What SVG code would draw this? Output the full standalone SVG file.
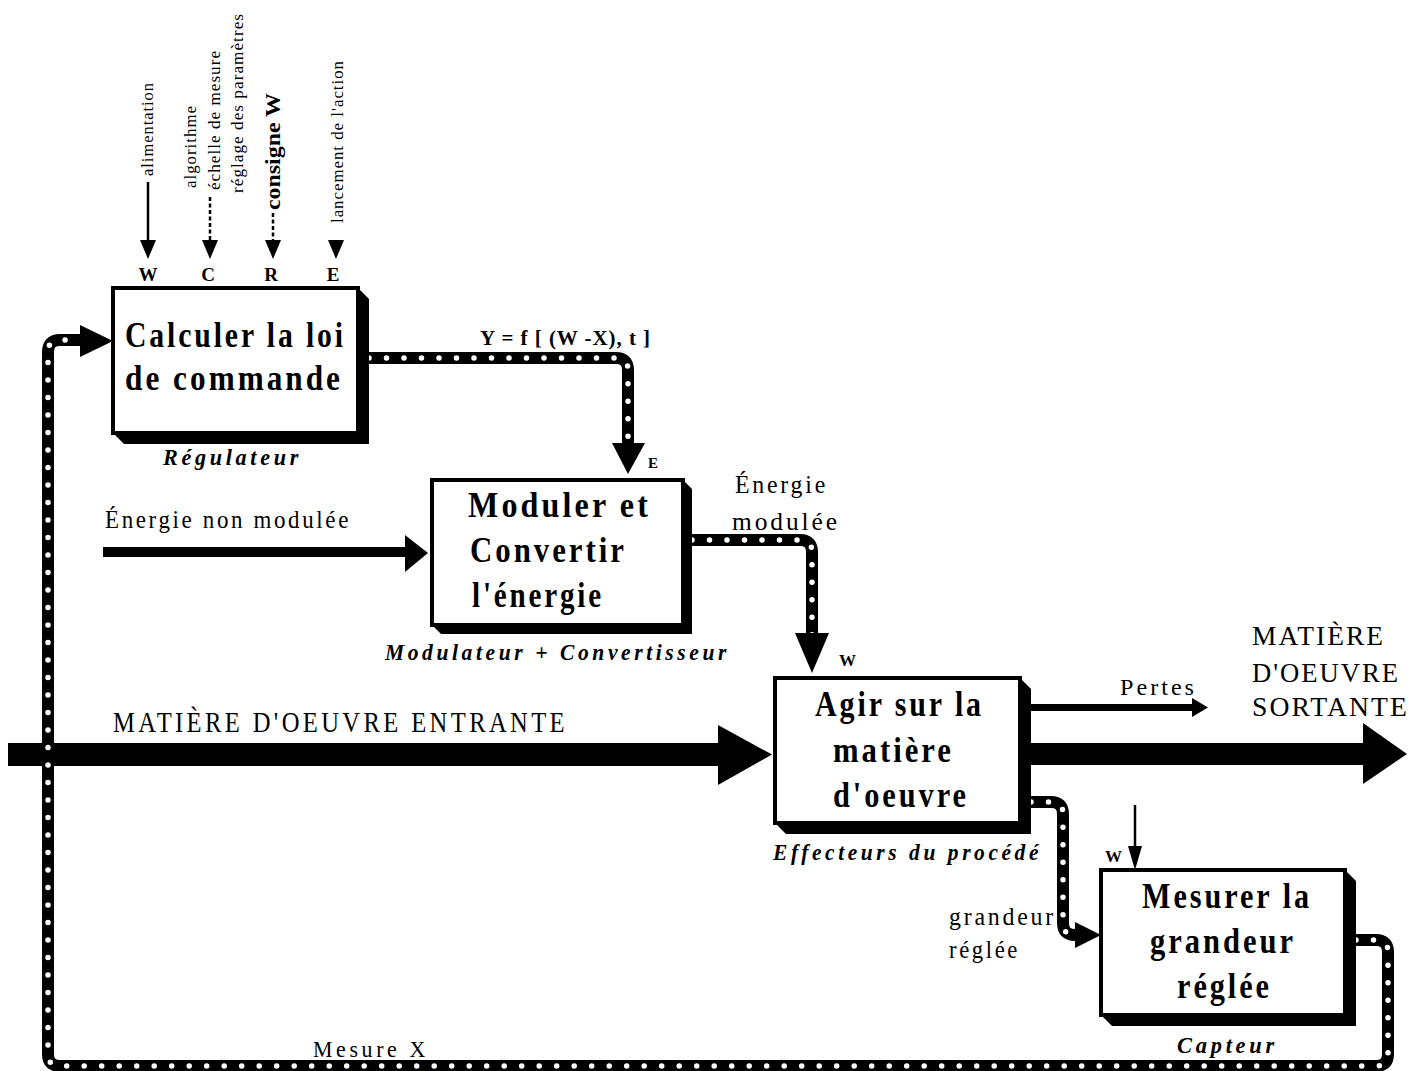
<svg xmlns="http://www.w3.org/2000/svg" width="1425" height="1071" viewBox="0 0 1425 1071">
<defs>
<style>
.t{font-family:'Liberation Serif','Times New Roman',serif;fill:#000}
.b{font-weight:bold}
.i{font-style:italic}
.bx{font-size:36px;font-weight:bold;letter-spacing:3.5px}
.sub{font-size:24px;font-weight:bold;font-style:italic;letter-spacing:4px}
.lb{font-size:26px;letter-spacing:3px}
.vt{font-size:17px;letter-spacing:1px}
.box{fill:#fff;stroke:#000;stroke-width:4}
.shadow{fill:#000}
.thin{stroke:#000;stroke-width:2.5;fill:none}
.dash{stroke:#000;stroke-width:2.5;fill:none;stroke-dasharray:4 2.5}
.pipe{fill:none;stroke:#000;stroke-width:12}
.dots{fill:none;stroke:#fff;stroke-width:5.5;stroke-linecap:round;stroke-dasharray:0 17.5}
</style>
</defs>
<rect x="0" y="0" width="1425" height="1071" fill="#fff"/>

<g id="connectors">
  <!-- top control inputs -->
  <line class="thin" x1="148" y1="182" x2="148" y2="243"/>
  <polygon points="140,240 156,240 148,259"/>
  <line class="dash" x1="210" y1="197" x2="210" y2="243"/>
  <polygon points="202,240 218,240 210,259"/>
  <line class="dash" x1="273" y1="213" x2="273" y2="243"/>
  <polygon points="265,240 281,240 273,259"/>
  <polygon points="328,240 344,240 336,259"/>

  <g class="t vt">
    <text transform="translate(153,176) rotate(-90)" textLength="94" lengthAdjust="spacingAndGlyphs">alimentation</text>
    <text transform="translate(196,188) rotate(-90)" textLength="83" lengthAdjust="spacingAndGlyphs">algorithme</text>
    <text transform="translate(220,190) rotate(-90)" textLength="140" lengthAdjust="spacingAndGlyphs">échelle de mesure</text>
    <text transform="translate(243,193) rotate(-90)" textLength="180" lengthAdjust="spacingAndGlyphs">réglage des paramètres</text>
    <text transform="translate(343,223) rotate(-90)" textLength="163" lengthAdjust="spacingAndGlyphs">lancement de l'action</text>
  </g>
  <text class="t b" font-size="22" transform="translate(280,210) rotate(-90)" textLength="117" lengthAdjust="spacingAndGlyphs">consigne W</text>

  <g class="t b" font-size="19" text-anchor="middle">
    <text x="148" y="281">W</text>
    <text x="208" y="281">C</text>
    <text x="271" y="281">R</text>
    <text x="333" y="281">E</text>
  </g>

  <!-- energie non modulee -->
  <rect x="103" y="547" width="304" height="10"/>
  <polygon points="405,535 428,553 405,572"/>
  <text class="t lb" x="105" y="528" textLength="246" lengthAdjust="spacingAndGlyphs">Énergie non modulée</text>

  <!-- matiere d'oeuvre entrante -->
  <rect x="8" y="743" width="712" height="23"/>
  <polygon points="718,725 772,754.5 718,785"/>
  <text class="t" font-size="29" letter-spacing="4" x="113" y="732" textLength="455" lengthAdjust="spacingAndGlyphs">MATIÈRE D'OEUVRE ENTRANTE</text>

  <!-- outputs -->
  <rect x="1031" y="704" width="164" height="7"/>
  <polygon points="1192,698 1208,707.5 1192,717"/>
  <text class="t" font-size="24" letter-spacing="3" x="1120" y="695" textLength="77" lengthAdjust="spacingAndGlyphs">Pertes</text>
  <rect x="1031" y="743" width="334" height="22"/>
  <polygon points="1363,723 1407,754 1363,784"/>
  <g class="t" font-size="27" letter-spacing="2">
    <text x="1252" y="645" textLength="133" lengthAdjust="spacingAndGlyphs">MATIÈRE</text>
    <text x="1252" y="682" textLength="148" lengthAdjust="spacingAndGlyphs">D'OEUVRE</text>
    <text x="1252" y="716" textLength="157" lengthAdjust="spacingAndGlyphs">SORTANTE</text>
  </g>

  <!-- small input to capteur -->
  <line class="thin" x1="1135" y1="805" x2="1135" y2="850"/>
  <polygon points="1128,846 1142,846 1135,870"/>
  <text class="t b" font-size="17" x="1105" y="862">W</text>

  <!-- pipe: regulateur to modulateur -->
  <path class="pipe" d="M369 358 H616 Q628 358 628 370 V446"/>
  <path class="dots" d="M369 358 H616 Q628 358 628 370 V446"/>
  <polygon points="612,443 645,443 628,474"/>
  <text class="t b" font-size="22" letter-spacing="1" x="480" y="345" textLength="171" lengthAdjust="spacingAndGlyphs">Y = f [ (W -X), t ]</text>
  <text class="t b" font-size="15" x="648" y="468">E</text>

  <!-- pipe: modulateur to effecteurs -->
  <path class="pipe" d="M692 540 H800 Q812 540 812 552 V636"/>
  <path class="dots" d="M692 540 H800 Q812 540 812 552 V636"/>
  <polygon points="795,633 829,633 812,673"/>
  <g class="t lb">
    <text x="735" y="493" textLength="93" lengthAdjust="spacingAndGlyphs">Énergie</text>
    <text x="732" y="530" textLength="108" lengthAdjust="spacingAndGlyphs">modulée</text>
  </g>
  <text class="t b" font-size="17" x="839" y="666">W</text>

  <!-- pipe: effecteurs to capteur -->
  <path class="pipe" d="M1031 802 H1051 Q1063 802 1063 814 V923 Q1063 935 1075 935 H1078"/>
  <path class="dots" d="M1031 802 H1051 Q1063 802 1063 814 V923 Q1063 935 1075 935 H1078"/>
  <polygon points="1075,922 1101,935 1075,948"/>
  <g class="t lb">
    <text x="949" y="925" textLength="107" lengthAdjust="spacingAndGlyphs">grandeur</text>
    <text x="949" y="958" textLength="71" lengthAdjust="spacingAndGlyphs">réglée</text>
  </g>

  <!-- feedback loop -->
  <path class="pipe" d="M1356 940 H1376 Q1388 940 1388 952 V1054 Q1388 1066 1376 1066 H60 Q48 1066 48 1054 V352 Q48 340 60 340 H82"/>
  <path class="dots" d="M1356 940 H1376 Q1388 940 1388 952 V1054 Q1388 1066 1376 1066 H60 Q48 1066 48 1054 V352 Q48 340 60 340 H82"/>
  <polygon points="80,325 113,341 80,357"/>
  <text class="t" font-size="24" letter-spacing="4" x="313" y="1057" textLength="116" lengthAdjust="spacingAndGlyphs">Mesure X</text>
</g>

<g id="node-regulateur">
  <polygon class="shadow" points="113,433 358,288 369,299 369,444 124,444"/>
  <rect class="box" x="113" y="288" width="245" height="145"/>
  <text class="t bx" x="125" y="347" textLength="221" lengthAdjust="spacingAndGlyphs">Calculer la loi</text>
  <text class="t bx" x="125" y="390" textLength="218" lengthAdjust="spacingAndGlyphs">de commande</text>
  <text class="t sub" x="163" y="465" textLength="139" lengthAdjust="spacingAndGlyphs">Régulateur</text>
</g>

<g id="node-modulateur">
  <polygon class="shadow" points="432,625 683,480 692,489 692,634 441,634"/>
  <rect class="box" x="432" y="480" width="251" height="145"/>
  <text class="t bx" x="468" y="517" textLength="183" lengthAdjust="spacingAndGlyphs">Moduler et</text>
  <text class="t bx" x="470" y="562" textLength="157" lengthAdjust="spacingAndGlyphs">Convertir</text>
  <text class="t bx" x="472" y="607" textLength="132" lengthAdjust="spacingAndGlyphs">l'énergie</text>
  <text class="t sub" x="385" y="660" textLength="345" lengthAdjust="spacingAndGlyphs">Modulateur + Convertisseur</text>
</g>

<g id="node-effecteurs">
  <polygon class="shadow" points="775,823 1020,678 1031,689 1031,834 786,834"/>
  <rect class="box" x="775" y="678" width="245" height="145"/>
  <text class="t bx" x="815" y="716" textLength="169" lengthAdjust="spacingAndGlyphs">Agir sur la</text>
  <text class="t bx" x="833" y="762" textLength="121" lengthAdjust="spacingAndGlyphs">matière</text>
  <text class="t bx" x="833" y="807" textLength="136" lengthAdjust="spacingAndGlyphs">d'oeuvre</text>
  <text class="t sub" x="773" y="860" textLength="269" lengthAdjust="spacingAndGlyphs">Effecteurs du procédé</text>
</g>

<g id="node-capteur">
  <polygon class="shadow" points="1101,1015 1345,870 1356,881 1356,1026 1112,1026"/>
  <rect class="box" x="1101" y="870" width="244" height="145"/>
  <text class="t bx" x="1142" y="908" textLength="170" lengthAdjust="spacingAndGlyphs">Mesurer la</text>
  <text class="t bx" x="1150" y="953" textLength="146" lengthAdjust="spacingAndGlyphs">grandeur</text>
  <text class="t bx" x="1177" y="998" textLength="95" lengthAdjust="spacingAndGlyphs">réglée</text>
  <text class="t sub" x="1177" y="1053" textLength="101" lengthAdjust="spacingAndGlyphs">Capteur</text>
</g>
</svg>
